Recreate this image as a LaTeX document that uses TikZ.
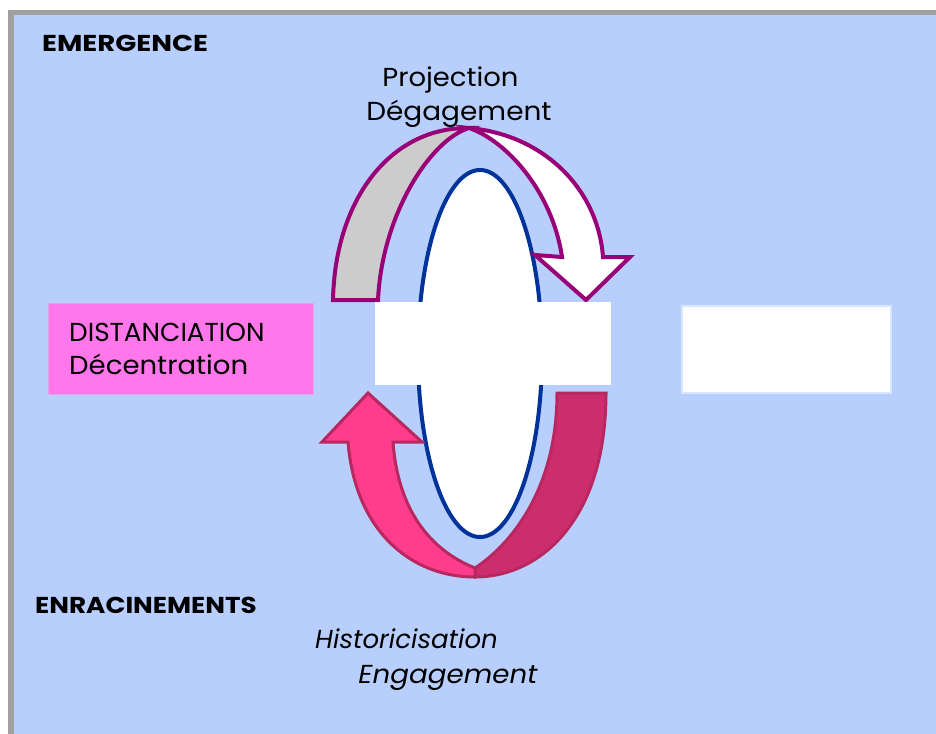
\documentclass[tikz,border=0pt]{standalone}
\usepackage{graphicx}
\usepackage{fontspec}
\setmainfont{Poppins}
\definecolor{bgblue}{HTML}{B8CFFD}
\definecolor{framegray}{HTML}{A0A0A0}
\definecolor{purp}{HTML}{990077}
\definecolor{ribgray}{HTML}{CCCCCC}
\definecolor{ellblue}{HTML}{003399}
\definecolor{pinkbox}{HTML}{FF77EA}
\definecolor{pinkboxline}{HTML}{D9A6E6}
\definecolor{hotpink}{HTML}{FF3D8C}
\definecolor{darkpink}{HTML}{CC2D6E}
\definecolor{pinkline}{HTML}{B8285E}
\definecolor{boxline}{HTML}{D8E6FF}
\newcommand{\hs}[2]{\scalebox{#1}[1]{#2}}
\begin{document}
\begin{tikzpicture}[x=1pt,y=-1pt,
  boldlabel/.style={inner sep=0pt, anchor=base west, font=\fontsize{23}{27}\selectfont\bfseries},
  plainlabel/.style={inner sep=0pt, font=\fontsize{26}{31}\selectfont},
  itlabel/.style={inner sep=0pt, anchor=base, font=\fontsize{26}{31}\selectfont\itshape},
  whitebox/.style={draw=boxline, line width=1.5pt, fill=white, inner sep=0pt},
  ribbon/.style={draw=purp, line width=4pt, line join=miter},
  pinkribbon/.style={draw=pinkline, line width=3pt, line join=miter}]
\useasboundingbox (0,0) rectangle (936,733);
\fill[white] (0,0) rectangle (936,733);
\draw[framegray, line width=5.5pt, fill=bgblue] (11,12.5) rectangle (950,750);

% blue ellipse
\draw[ellblue, line width=4pt, fill=white] (480,353.5) ellipse [x radius=62, y radius=183.5];

% top ribbon: grey back part
\draw[ribbon, fill=ribgray] (333,300) .. controls (335,200) and (390,127) .. (469,128)
  .. controls (430,140) and (382,215) .. (378,300) -- cycle;
% top ribbon: white front part with head
\draw[ribbon, fill=white] (469,128) .. controls (545,135) and (598,190) .. (603,257)
  -- (630,257) -- (586,300) -- (535,255) -- (562,257)
  .. controls (552,190) and (505,140) .. (469,128) -- cycle;

% bottom ribbon: dark part
\draw[pinkribbon, fill=darkpink] (557,393) -- (606,393) .. controls (606,520) and (540,577) .. (475,577)
  -- (475,568) .. controls (510,545) and (557,490) .. (557,393) -- cycle;
% bottom ribbon: bright part with head
\draw[pinkribbon, fill=hotpink] (475,568) .. controls (430,550) and (398,510) .. (393,442)
  -- (422,442) -- (368,393) -- (322,442) -- (348,442)
  .. controls (355,530) and (410,577) .. (475,577) -- cycle;

% boxes
\node[whitebox, draw=none, minimum width=236pt, minimum height=83pt] (mid) at (493,343.5) {};
\node[whitebox, minimum width=209pt, minimum height=87pt] (right) at (786.5,349.5) {};
\node[draw=pinkboxline, line width=1pt, fill=pinkbox, inner sep=0pt, minimum width=264.5pt, minimum height=91pt] (dist) at (180.75,348.5) {};

% texts
\node[boldlabel] (emergence) at (42,52) {\hs{1.2}{EMERGENCE}};
\node[plainlabel, anchor=base] (projection) at (450.5,87) {\hs{1.056}{Projection}};
\node[plainlabel, anchor=base] (degagement) at (459,121) {\hs{1.075}{Dégagement}};
\node[plainlabel, anchor=base west] (distanciation) at (69,341) {\hs{1.012}{DISTANCIATION}};
\node[plainlabel, anchor=base west] (decentration) at (69,374) {\hs{1.06}{Décentration}};
\node[boldlabel] (enracinements) at (35,613) {\hs{1.14}{ENRACINEMENTS}};
\node[itlabel] (historicisation) at (406.5,648) {Historicisation};
\node[itlabel] (engagement) at (448,683) {\hs{1.067}{Engagement}};
\end{tikzpicture}
\end{document}
